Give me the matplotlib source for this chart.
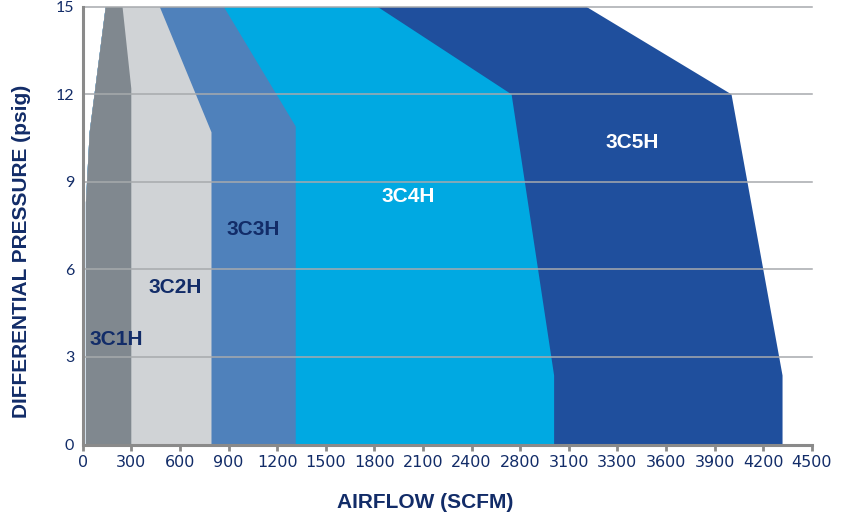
import numpy as np
import matplotlib
matplotlib.use("Agg")
import matplotlib.pyplot as plt
from matplotlib.patches import Polygon

# ---- data ----
tick_values = [0, 300, 600, 900, 1200, 1500, 1800, 2100, 2400, 2800, 3100, 3300, 3600, 3900, 4200, 4500]
tick_labels = [str(v) for v in tick_values]
y_ticks = [0, 3, 6, 9, 12, 15]

models = ["3C1H", "3C2H", "3C3H", "3C4H", "3C5H"]
# left envelope of the smallest model (bottom -> top): (SCFM, psig)
left_edge_x = [20, 20, 43, 142]
left_edge_y = [0, 8.3, 10.7, 15]
# right envelope of each model (bottom -> top)
right_x = {
    "3C1H": [300, 300, 246],
    "3C2H": [795, 795, 476],
    "3C3H": [1315, 1315, 872],
    "3C4H": [3010, 3010, 2730, 1822],
    "3C5H": [4320, 4320, 4005, 3174],
}
right_y = {
    "3C1H": [0, 12.2, 15],
    "3C2H": [0, 10.7, 15],
    "3C3H": [0, 10.9, 15],
    "3C4H": [0, 2.35, 12, 15],
    "3C5H": [0, 2.35, 12, 15],
}
colors = {
    "3C1H": "#80888f",
    "3C2H": "#d0d3d6",
    "3C3H": "#4f81bb",
    "3C4H": "#00a9e2",
    "3C5H": "#1f4f9d",
}
label_pos = {
    "3C1H": (207, 3.6),
    "3C2H": (570, 5.37),
    "3C3H": (1051, 7.35),
    "3C4H": (2008, 8.5),
    "3C5H": (3389, 10.35),
}
label_color = {
    "3C1H": "#122c68",
    "3C2H": "#122c68",
    "3C3H": "#122c68",
    "3C4H": "white",
    "3C5H": "white",
}

navy = "#122c68"
idx = np.arange(len(tick_values), dtype=float)


def fwd(x):
    return np.interp(x, tick_values, idx)


def inv(p):
    return np.interp(p, idx, tick_values)


fig = plt.figure(figsize=(8.43, 5.17), dpi=100)
ax = fig.add_axes([82.7 / 843, (517 - 444) / 517, (811.7 - 82.7) / 843, (444 - 7) / 517])
ax.set_xscale("function", functions=(fwd, inv))
ax.set_xlim(0, 4500)
ax.set_ylim(0, 15)

# polygons, biggest first
for i, m in enumerate(reversed(models)):
    xs = list(right_x[m]) + list(reversed(left_edge_x))
    ys = list(right_y[m]) + list(reversed(left_edge_y))
    poly = Polygon(np.column_stack([xs, ys]), closed=True, facecolor=colors[m],
                   edgecolor="none", zorder=1 + i)
    ax.add_patch(poly)

# grid
for yv in y_ticks[1:]:
    ax.axhline(yv, color="#a7aaad", lw=1.1, zorder=10, clip_on=False)

for m in models:
    x, y = label_pos[m]
    ax.text(x, y, m, ha="center", va="center", fontsize=15, fontweight="bold",
            family="Liberation Sans", color=label_color[m], zorder=20)

ax.set_xticks(tick_values)
ax.set_xticklabels(tick_labels)
ax.set_yticks(y_ticks)
ax.set_yticklabels([str(v) for v in y_ticks])
ax.tick_params(axis="x", length=4, width=2, color="#8a8a8a", pad=3,
               labelsize=11.5, labelcolor=navy)
ax.tick_params(axis="y", length=0, pad=6, labelsize=11.5, labelcolor=navy)
for lab in ax.get_xticklabels() + ax.get_yticklabels():
    lab.set_family("Lato")

for s in ["top", "right"]:
    ax.spines[s].set_visible(False)
for s in ["left", "bottom"]:
    ax.spines[s].set_color("#8a8a8a")
    ax.spines[s].set_linewidth(2.2)
    ax.spines[s].set_zorder(15)
ax.spines["bottom"].set_position(("outward", 1))

fig.text(425 / 843, 1 - 503 / 517, "AIRFLOW (SCFM)", ha="center", va="center",
         fontsize=15, fontweight="bold", family="Liberation Sans", color=navy)
fig.text(22 / 843, 1 - 251 / 517, "DIFFERENTIAL PRESSURE (psig)", ha="center", va="center",
         rotation=90, fontsize=15, fontweight="bold", family="Liberation Sans", color=navy)

fig.savefig("out.png", dpi=100)
